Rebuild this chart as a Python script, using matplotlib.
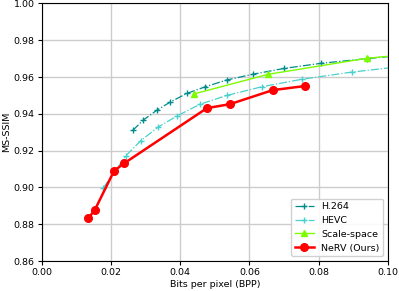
import numpy as np
import matplotlib
matplotlib.use('Agg')
import matplotlib.pyplot as plt

# datos
h264_bpp = [0.0263, 0.0293, 0.0332, 0.0371, 0.0419, 0.0472, 0.0534, 0.0611, 0.0700, 0.0807, 0.0938, 0.1050]
h264_ssim = [0.9310, 0.9366, 0.9419, 0.9464, 0.9511, 0.9547, 0.9584, 0.9616, 0.9647, 0.9675, 0.9700, 0.9720]

hevc_bpp = [0.0178, 0.0243, 0.0286, 0.0336, 0.0392, 0.0457, 0.0534, 0.0635, 0.0751, 0.0895, 0.1050]
hevc_ssim = [0.8998, 0.9172, 0.9254, 0.9328, 0.9390, 0.9452, 0.9500, 0.9547, 0.9588, 0.9627, 0.9660]

ss_bpp = [0.0441, 0.0654, 0.0938, 0.1100]
ss_ssim = [0.9509, 0.9615, 0.9702, 0.9730]

nerv_bpp = [0.0135, 0.0154, 0.0209, 0.0238, 0.0477, 0.0544, 0.0667, 0.0759]
nerv_ssim = [0.8833, 0.8880, 0.9090, 0.9131, 0.9431, 0.9453, 0.9529, 0.9551]

plt.rcParams['font.size'] = 6.8

fig = plt.figure(figsize=(3.99, 2.91), dpi=100)
ax = fig.add_axes([0.1045, 0.103, 0.8679, 0.885])

ax.plot(h264_bpp, h264_ssim, color='darkcyan', linestyle='-.', marker='+', markersize=5, linewidth=0.9, label='H.264')
ax.plot(hevc_bpp, hevc_ssim, color='mediumturquoise', linestyle='-.', marker='+', markersize=5, linewidth=0.9, label='HEVC')
ax.plot(ss_bpp, ss_ssim, color='lawngreen', linestyle='-', marker='^', markersize=5, linewidth=1.0, label='Scale-space')
ax.plot(nerv_bpp, nerv_ssim, color='red', linestyle='-', marker='o', markersize=5.5, linewidth=1.8, label='NeRV (Ours)')

ax.set_xlim(0, 0.1)
ax.set_ylim(0.86, 1.0)
ax.set_xticks(np.arange(0, 0.101, 0.02))
ax.set_yticks(np.arange(0.86, 1.001, 0.02))
ax.set_xlabel('Bits per pixel (BPP)', labelpad=2)
ax.set_ylabel('MS-SSIM', labelpad=2)
ax.tick_params(length=3, pad=2)
ax.grid(True, color='#cccccc', linewidth=1.0)
ax.legend(loc='lower right', fontsize=6.8, framealpha=0.9)

fig.savefig('out.png', dpi=100)
